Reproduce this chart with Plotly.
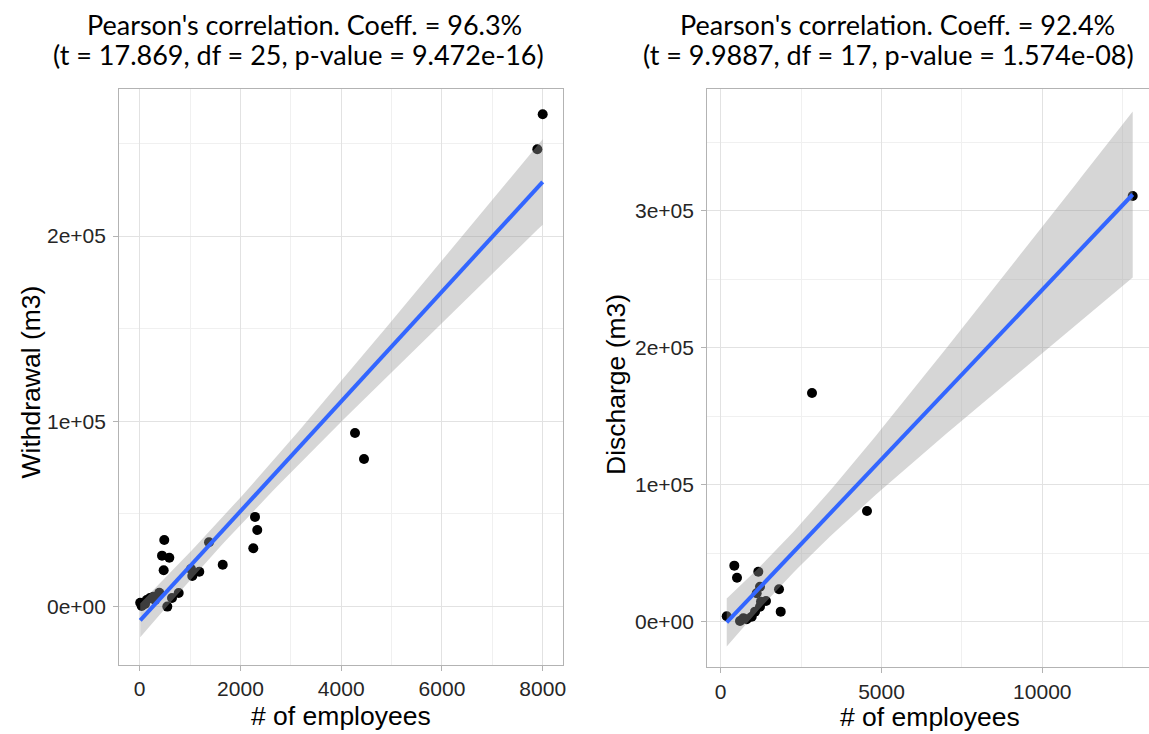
import numpy as np
import plotly.graph_objects as go

# ---------------- data ----------------
emp_withdrawal = [8000, 7893, 4274, 4453, 2289, 2334, 2255, 1648, 1376, 488,
                  443, 588, 476, 1018, 1183, 1044, 774, 389, 270, 139,
                  10, 40, 548, 304, 105, 641, 204]
withdrawal_m3 = [265700, 246800, 93700, 79700, 48400, 41300, 31500, 22600, 34700, 35900,
                 27500, 26400, 19600, 20300, 18800, 16500, 7300, 7500, 5300, 3600,
                 2100, 300, 0, 3600, 1400, 4600, 4600]

emp_discharge = [12811, 2839, 4549, 423, 507, 1169, 1813, 1866, 187, 600,
                 964, 1222, 1253, 1119, 1222, 703, 1067, 808, 1409]
discharge_m3 = [310800, 166900, 80700, 40800, 32000, 36400, 23500, 7200, 3800, 400,
                3500, 10800, 14500, 20600, 25400, 2300, 7200, 1600, 15000]

title_w = ["Pearson's correlation. Coeff. = 96.3%",
           "(t = 17.869, df = 25, p-value = 9.472e-16)"]
title_d = ["Pearson's correlation. Coeff. = 92.4%",
           "(t = 9.9887, df = 17, p-value = 1.574e-08)"]
xlabel = "# of employees"
ylabel_w = "Withdrawal (m3)"
ylabel_d = "Discharge (m3)"

w_xticks = [0, 2000, 4000, 6000, 8000]
w_xticktext = ["0", "2000", "4000", "6000", "8000"]
w_xminor = [1000, 3000, 5000, 7000]
w_yticks = [0, 100000, 200000]
w_yticktext = ["0e+00", "1e+05", "2e+05"]
w_yminor = [50000, 150000, 250000]

d_xticks = [0, 5000, 10000]
d_xticktext = ["0", "5000", "10000"]
d_xminor = [2500, 7500, 12500]
d_yticks = [0, 100000, 200000, 300000]
d_yticktext = ["0e+00", "1e+05", "2e+05", "3e+05"]
d_yminor = [50000, 150000, 250000, 350000]

T_QUANTILE = {25: 2.0595, 17: 2.1098}  # 97.5% Student t quantiles


def fit_band(x, y, tq, n_pts=80):
    x = np.asarray(x, float)
    y = np.asarray(y, float)
    b1, b0 = np.polyfit(x, y, 1)
    xs = np.linspace(x.min(), x.max(), n_pts)
    yhat = b0 + b1 * xs
    resid = y - (b0 + b1 * x)
    n = len(x)
    s = np.sqrt((resid ** 2).sum() / (n - 2))
    se = s * np.sqrt(1.0 / n + (xs - x.mean()) ** 2 / ((x - x.mean()) ** 2).sum())
    return xs, yhat, yhat - tq * se, yhat + tq * se


W, H = 1149, 734
fig = go.Figure()

panels = [
    (emp_withdrawal, withdrawal_m3, T_QUANTILE[25], "x", "y"),
    (emp_discharge, discharge_m3, T_QUANTILE[17], "x2", "y2"),
]
for xd, yd, tq, xa, ya in panels:
    fig.add_trace(go.Scatter(x=xd, y=yd, mode="markers", xaxis=xa, yaxis=ya,
                             marker=dict(color="black", size=10, line=dict(width=0)),
                             showlegend=False, hoverinfo="x+y"))
    xs, yhat, lo, hi = fit_band(xd, yd, tq)
    fig.add_trace(go.Scatter(x=np.concatenate([xs, xs[::-1]]),
                             y=np.concatenate([hi, lo[::-1]]),
                             fill="toself", fillcolor="rgba(153,153,153,0.4)",
                             line=dict(width=0), mode="lines", xaxis=xa, yaxis=ya,
                             showlegend=False, hoverinfo="skip"))
    fig.add_trace(go.Scatter(x=xs, y=yhat, mode="lines", xaxis=xa, yaxis=ya,
                             line=dict(color="#3366FF", width=4),
                             showlegend=False, hoverinfo="skip"))

tickfont = dict(family="Liberation Sans, Arial, sans-serif", size=21, color="#262626")
GRID = "#E2E2E2"
MINOR = "#F0F0F0"
BORDER = "#B3B3B3"


def axis(domain, rng, tickvals, ticktext, minor_vals, anchor, mirror=True, standoff=0):
    return dict(domain=domain, range=rng, anchor=anchor, tickmode="array",
                tickvals=tickvals, ticktext=ticktext, tickfont=tickfont,
                showgrid=True, gridcolor=GRID, gridwidth=1.2, zeroline=False,
                showline=True, linecolor=BORDER, linewidth=1.3, mirror=mirror,
                ticks="outside", ticklen=5, tickcolor=BORDER, tickwidth=1.2,
                ticklabelstandoff=standoff,
                minor=dict(tickvals=minor_vals, showgrid=True, gridcolor=MINOR,
                           gridwidth=1, ticks=""),
                automargin=False, fixedrange=True)


fig.update_layout(
    width=W, height=H,
    margin=dict(l=0, r=0, t=0, b=0),
    paper_bgcolor="white", plot_bgcolor="white",
    xaxis=axis([119.3 / W, 563.3 / W], [-405, 8409], w_xticks, w_xticktext, w_xminor, "y"),
    yaxis=axis([1 - 665 / H, 1 - 89.3 / H], [-31517, 279170], w_yticks, w_yticktext, w_yminor,
               "x", standoff=3),
    xaxis2=axis([707.3 / W, 1.0], [-417, 13318], d_xticks, d_xticktext, d_xminor, "y2"),
    yaxis2=axis([1 - 667.3 / H, 1 - 89.3 / H], [-33455, 388750], d_yticks, d_yticktext, d_yminor,
                "x2", mirror=False, standoff=3),
)

title_font = dict(family="Lato, Noto Sans, sans-serif", size=27, color="black")
label_font = dict(family="Liberation Sans, Arial, sans-serif", size=26.5, color="black")


def ann(text, px, py, font, angle=0):
    return dict(text=text, x=px / W, y=1 - py / H, xref="paper", yref="paper",
                xanchor="center", yanchor="middle", showarrow=False, font=font,
                textangle=angle)


fig.update_layout(annotations=[
    ann(title_w[0], 304.5, 24, title_font),
    ann(title_w[1], 298, 55, title_font),
    ann(title_d[0], 897, 24, title_font),
    ann(title_d[1], 888, 55, title_font),
    ann(xlabel, 340.5, 716, label_font),
    ann(xlabel, 929.5, 717, label_font),
    ann(ylabel_w, 30.5, 382, label_font, -90),
    ann(ylabel_d, 616, 385, label_font, -90),
])

fig.write_html("out.html", config={"displayModeBar": False})
